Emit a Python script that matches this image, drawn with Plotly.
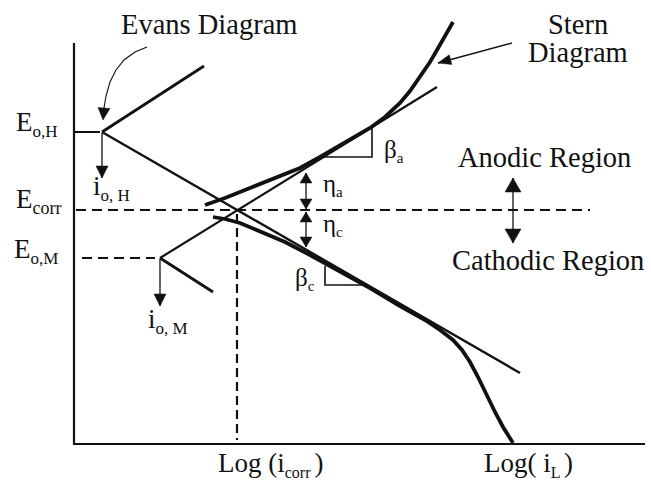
import math
import plotly.graph_objects as go

# ---- diagram data (log i on x, potential on y; y grows downward) ----
axis_x = [74, 74, 645]
axis_y = [43, 444, 444]

E_oH_tick_x = [74, 100]
E_oH_tick_y = [132, 132]

# Evans diagram Tafel lines
H_anodic_x = [102, 204]
H_anodic_y = [132, 66]
H_cathodic_x = [102, 520]
H_cathodic_y = [132, 373]
M_anodic_x = [160, 437]
M_anodic_y = [258, 87]
M_cathodic_x = [160, 213]
M_cathodic_y = [258, 292]

# Stern diagram (measured polarization curves)
stern_a_x = [205, 225, 250, 275, 300, 320, 345, 370, 385, 400, 410, 420, 430, 437, 445, 453]
stern_a_y = [205, 198, 188, 178, 168, 157, 143, 128, 117, 103, 91, 77, 62, 50, 36, 22]
stern_c_x = [213, 225, 240, 260, 285, 310, 340, 370, 400, 425, 440, 453, 462, 470, 478, 487, 495, 503, 513]
stern_c_y = [217, 219, 223, 231, 242, 255, 271, 288, 306, 320, 330, 340, 350, 362, 377, 396, 412, 427, 443]

# dashed reference lines
Ecorr_x = [76, 590]
Ecorr_y = [210, 210]
EoM_x = [82, 155]
EoM_y = [258, 258]
icorr_x = [237, 237]
icorr_y = [214, 440]

# slope triangles
beta_a_x = [320, 372, 372]
beta_a_y = [157, 157, 128]
beta_c_x = [325, 325, 366]
beta_c_y = [266, 285, 285]

# curved pointer to Evans diagram
evans_ptr_x = [147, 135, 124, 116, 110, 106, 104, 103]
evans_ptr_y = [47, 52, 60, 70, 82, 96, 108, 118]

# arrows: (tail x, tail y, tip x, tip y, head length, head half-width, double-headed)
arrows = [
    (102, 133, 102, 178, 12, 6, False),   # i_o,H
    (160, 259, 160, 306, 12, 6, False),   # i_o,M
    (306, 209, 306, 173, 10, 6, True),    # eta_a
    (306, 212, 306, 247, 10, 6, True),    # eta_c
    (513, 178, 513, 243, 14, 8, True),    # anodic / cathodic regions
    (512, 43, 438, 63, 13, 5, False),     # Stern pointer
]
evans_head = (104, 108, 103, 120, 12, 6)

INK = "#111111"
FONT = "Liberation Serif, Times New Roman, serif"

fig = go.Figure()

def line(x, y, w, dash=None, color=INK):
    fig.add_trace(go.Scatter(x=x, y=y, mode="lines",
                             line=dict(color=color, width=w, dash=dash),
                             hoverinfo="skip", showlegend=False))

def head(fx, fy, tx, ty, L, W):
    d = math.hypot(tx - fx, ty - fy)
    ux, uy = (tx - fx) / d, (ty - fy) / d
    bx, by = tx - ux * L, ty - uy * L
    nx, ny = -uy, ux
    fig.add_trace(go.Scatter(x=[tx, bx + nx * W, bx - nx * W, tx],
                             y=[ty, by + ny * W, by - ny * W, ty],
                             mode="lines", fill="toself", fillcolor=INK,
                             line=dict(color=INK, width=0.5),
                             hoverinfo="skip", showlegend=False))

line(axis_x, axis_y, 2.2)
line(E_oH_tick_x, E_oH_tick_y, 2)
line(H_anodic_x, H_anodic_y, 2.8)
line(H_cathodic_x, H_cathodic_y, 2.4)
line(M_anodic_x, M_anodic_y, 2.2)
line(M_cathodic_x, M_cathodic_y, 2.8)
line(stern_a_x, stern_a_y, 3.8)
line(stern_c_x, stern_c_y, 3.8)
line(Ecorr_x, Ecorr_y, 2.2, dash="10px,6px")
line(EoM_x, EoM_y, 2.2, dash="10px,6px")
line(icorr_x, icorr_y, 2.2, dash="9px,5px")
line(beta_a_x, beta_a_y, 1.6)
line(beta_c_x, beta_c_y, 1.6)
line(evans_ptr_x, evans_ptr_y, 1.1)
head(*evans_head)

for (x0, y0, x1, y1, L, W, both) in arrows:
    line([x0, x1], [y0, y1], 1.3)
    head(x0, y0, x1, y1, L, W)
    if both:
        head(x1, y1, x0, y0, L, W)

def sub(s, px):
    return "<sub><span style='font-size:%dpx'>%s</span></sub>" % (px, s)

def text(s, x, y, size=28.5, xanchor="center"):
    fig.add_annotation(x=x, y=y, xref="x", yref="y", text=s, showarrow=False,
                       xanchor=xanchor, yanchor="middle",
                       font=dict(family=FONT, size=size, color=INK))

text("Evans Diagram", 209, 24)
text("Stern", 578, 24)
text("Diagram", 578, 52)
text("Anodic Region", 544, 157)
text("Cathodic Region", 548, 260)
text("E" + sub("o,H", 17), 14, 124, 27, "left")
text("E" + sub("corr", 18), 14, 201, 27, "left")
text("E" + sub("o,M", 17), 12, 251, 27, "left")
text("i" + sub("o, H", 17), 91, 188, 27, "left")
text("i" + sub("o, M", 17), 146, 321, 27, "left")
text("Log (i" + sub("corr ", 16) + ")", 216, 464, 27, "left")
text("Log( i" + sub("L ", 16) + ")", 482, 464, 27, "left")
text("β" + sub("a", 15), 382, 151, 25, "left")
text("β" + sub("c", 15), 293, 279, 25, "left")
text("η" + sub("a", 15), 321, 185, 25, "left")
text("η" + sub("c", 15), 321, 225, 25, "left")

fig.update_layout(
    width=651, height=485,
    margin=dict(l=0, r=0, t=0, b=0),
    paper_bgcolor="white", plot_bgcolor="white",
    xaxis=dict(range=[0, 651], visible=False, fixedrange=True),
    yaxis=dict(range=[485, 0], visible=False, fixedrange=True),
)

fig.write_html("out.html")
